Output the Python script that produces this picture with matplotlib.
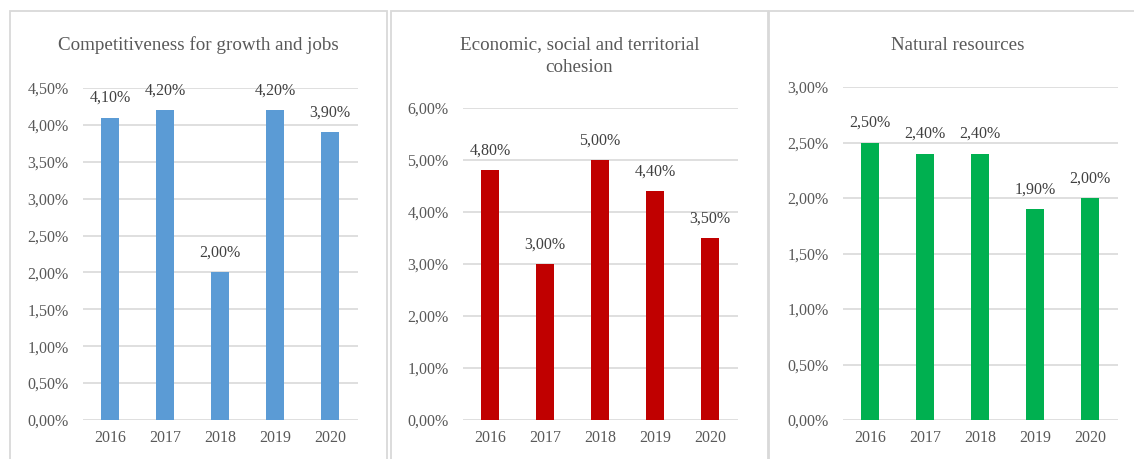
import matplotlib
matplotlib.use("Agg")
import matplotlib.pyplot as plt
from matplotlib.patches import Rectangle
from matplotlib.ticker import FuncFormatter

plt.rcParams['font.family'] = ['Liberation Serif', 'DejaVu Serif']

years = ["2016", "2017", "2018", "2019", "2020"]
titles = ["Competitiveness for growth and jobs",
          "Economic, social and territorial\ncohesion",
          "Natural resources"]
competitiveness = [4.10, 4.20, 2.00, 4.20, 3.90]
cohesion = [4.80, 3.00, 5.00, 4.40, 3.50]
natural = [2.50, 2.40, 2.40, 1.90, 2.00]
series = [competitiveness, cohesion, natural]
colors = ["#5B9BD5", "#C00000", "#00B050"]
ymax = [4.5, 6.0, 3.0]
ystep = [0.5, 1.0, 0.5]

W, H = 1134, 459
fig = plt.figure(figsize=(W / 100, H / 100), dpi=100)

TXT = "#595959"
GRID = "#D9D9D9"

# panel frames (pixels: left, right)
frames = [(10, 387), (391, 768), (769, 1150)]
for (l, r) in frames:
    fig.patches.append(Rectangle((l / W, -0.05), (r - l) / W, 1.05 - 11 / H,
                                 transform=fig.transFigure, fill=False,
                                 edgecolor=GRID, linewidth=1.3))

# axes placement in pixels: left, top (y of max tick)
axpos = [(82.5, 88), (462.5, 108), (842.5, 87)]
title_y = [45, 56, 45]
bottom_px = 420
axw = 275

fmt = FuncFormatter(lambda v, p: ("%.2f%%" % v).replace(".", ","))

for i in range(3):
    l, t = axpos[i]
    ax = fig.add_axes([l / W, 1 - bottom_px / H, axw / W, (bottom_px - t) / H])
    x = range(len(years))
    bars = ax.bar(x, series[i], width=0.31, color=colors[i], zorder=3)
    ax.set_xlim(-0.5, 4.5)
    ax.set_ylim(0, ymax[i])
    n = int(round(ymax[i] / ystep[i]))
    ax.set_yticks([k * ystep[i] for k in range(n + 1)])
    ax.yaxis.set_major_formatter(fmt)
    ax.set_xticks(list(x))
    ax.set_xticklabels(years)
    ax.grid(axis='y', color=GRID, linewidth=1.2, zorder=0)
    for s in ax.spines.values():
        s.set_visible(False)
    ax.tick_params(axis='both', length=0, labelsize=11.5, colors=TXT)
    ax.tick_params(axis='x', pad=7)
    ax.tick_params(axis='y', pad=10)
    for b, v in zip(bars, series[i]):
        ax.annotate(("%.2f%%" % v).replace(".", ","),
                    (b.get_x() + b.get_width() / 2, v),
                    xytext=(0, 8.5), textcoords='offset points',
                    ha='center', va='bottom', fontsize=11.5, color="#404040")
    cx = (frames[i][0] + min(frames[i][1], 1147)) / 2
    fig.text(cx / W, 1 - title_y[i] / H, titles[i], ha='center', va='center',
             fontsize=13.7, color=TXT, linespacing=1.4)

fig.savefig("out.png", dpi=100, facecolor="white")
